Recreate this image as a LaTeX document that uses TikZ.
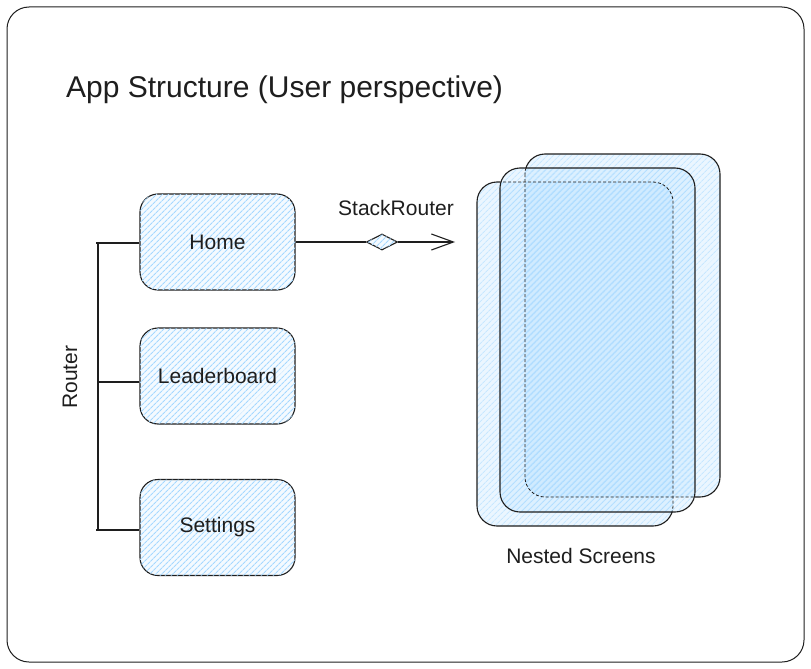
\documentclass[tikz,border=0pt]{standalone}
\usepackage{fontspec}
\setmainfont{Liberation Sans}
\usetikzlibrary{arrows.meta,shapes.geometric,patterns.meta}
\definecolor{ink}{HTML}{1E1E1E}
\definecolor{skyfill}{HTML}{A5D8FF}
\begin{document}
\begin{tikzpicture}[x=1pt,y=-1pt,
  hatch/.style={pattern={Lines[angle=45,distance=4pt,line width=1.1pt]}, pattern color=skyfill},
  box/.style={draw=ink, line width=1.1pt, rounded corners=18pt, fill=skyfill!12, postaction={hatch},
    minimum width=155pt, minimum height=96pt, inner sep=0pt, text=ink, font=\fontsize{21}{24}\selectfont},
  lbl/.style={text=ink, inner sep=0pt, font=\fontsize{21}{24}\selectfont},
  wire/.style={draw=ink, line width=1.1pt},
  scrfill/.style={fill=skyfill, fill opacity=0.22, rounded corners=20pt},
  scrhatch/.style={hatch, fill opacity=0.5, rounded corners=20pt},
  scrline/.style={draw=ink, line width=1.1pt, rounded corners=20pt},
  scrdash/.style={draw=ink, line width=0.8pt, rounded corners=20pt, dash pattern=on 3pt off 2pt}]
\useasboundingbox (0,0) rectangle (811,669);
% outer frame
\draw[draw=ink, line width=1pt, rounded corners=22pt] (7,7) rectangle (804,662);
% title
\node[lbl, anchor=west, font=\fontsize{30}{34}\selectfont] (title) at (66,90) {App Structure (User perspective)};
% route boxes
\node[box] (home) at (217.5,242) {Home};
\node[box] (leader) at (217.5,376) {Leaderboard};
\node[box] (settings) at (217.5,527.5) {Settings};
% router bracket
\coordinate (bt) at (98,243);
\coordinate (bm) at (98,382);
\coordinate (bb) at (98,530);
\draw[wire] (bt) -- (bb);
\draw[wire] ([xshift=-2pt]bt) -- (bt -| home.west);
\draw[wire] (bm) -- (bm -| leader.west);
\draw[wire] ([xshift=-2pt]bb) -- (bb -| settings.west);
\node[lbl, rotate=90] (router) at (70,377) {Router};
% stack router connector
\node[draw=ink, line width=1.1pt, diamond, fill=skyfill!12, postaction={hatch}, minimum width=31pt, minimum height=16pt, inner sep=0pt] (dia) at (382,242) {};
\coordinate (tip) at (455,242);
\draw[wire] (home.east) -- (dia.west);
\draw[wire, -{Straight Barb[length=22pt,width=16pt,line width=1.1pt]}] (dia.east) -- (tip);
\node[lbl] (stack) at (396,208) {StackRouter};
% nested screens: fills
\path[scrfill] (525,154) rectangle (720,497);
\path[scrhatch] (525,154) rectangle (720,497);
\path[scrfill] (500,168) rectangle (695,512);
\path[scrhatch] (500,168) rectangle (695,512);
\path[scrfill] (477,182) rectangle (673,526);
\path[scrhatch] (477,182) rectangle (673,526);
% outlines of back and front screens, solid outside the middle one
\begin{scope}
  \clip (0,0) rectangle (500,669) (695,0) rectangle (811,669) (0,0) rectangle (811,168) (0,512) rectangle (811,669);
  \draw[scrline] (525,154) rectangle (720,497);
  \draw[scrline] (477,182) rectangle (673,526);
\end{scope}
% dashed where seen through the middle one
\begin{scope}
  \clip (500,168) rectangle (695,512);
  \draw[scrdash] (525,154) rectangle (720,497);
  \draw[scrdash] (477,182) rectangle (673,526);
\end{scope}
\draw[scrline] (500,168) rectangle (695,512);
\node[lbl] (nested) at (581,556) {Nested Screens};
\end{tikzpicture}
\end{document}
